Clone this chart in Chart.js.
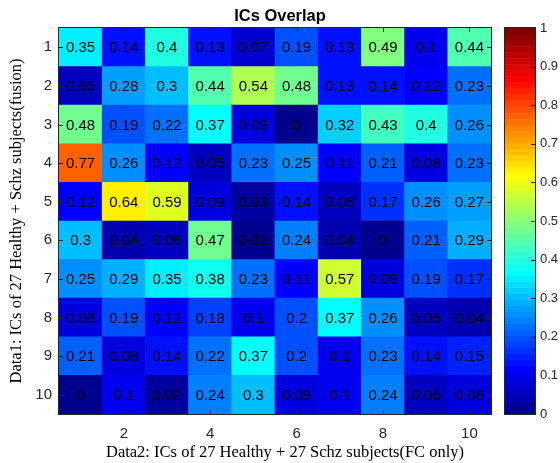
<!DOCTYPE html>
<html>
<head>
<meta charset="utf-8">
<script src="https://cdn.jsdelivr.net/npm/chart.js@4/dist/chart.umd.min.js"></script>
<style>
  html, body { margin: 0; padding: 0; background: #fff; }
  canvas { display: block; }
</style>
</head>
<body>
<canvas id="overlap" width="560" height="463"></canvas>
<script>
const ctx = document.getElementById('overlap').getContext('2d');

// Filas (Data1) y columnas (Data2)
const rows = [1, 2, 3, 4, 5, 6, 7, 8, 9, 10];
const cols = [1, 2, 3, 4, 5, 6, 7, 8, 9, 10];
const xTicks = [2, 4, 6, 8, 10];
const cbTicks = [0, 0.1, 0.2, 0.3, 0.4, 0.5, 0.6, 0.7, 0.8, 0.9, 1];

// Valores de solapamiento, una fila por IC de Data1
const r1 = [0.35, 0.14, 0.4, 0.13, 0.07, 0.19, 0.13, 0.49, 0.1, 0.44];
const r2 = [0.05, 0.28, 0.3, 0.44, 0.54, 0.48, 0.13, 0.14, 0.12, 0.23];
const r3 = [0.48, 0.19, 0.22, 0.37, 0.09, 0, 0.32, 0.43, 0.4, 0.26];
const r4 = [0.77, 0.26, 0.12, 0.05, 0.23, 0.25, 0.11, 0.21, 0.08, 0.23];
const r5 = [0.12, 0.64, 0.59, 0.09, 0.03, 0.14, 0.05, 0.17, 0.26, 0.27];
const r6 = [0.3, 0.04, 0.06, 0.47, 0.01, 0.24, 0.04, 0, 0.21, 0.29];
const r7 = [0.25, 0.29, 0.35, 0.38, 0.23, 0.11, 0.57, 0.09, 0.19, 0.17];
const r8 = [0.08, 0.19, 0.12, 0.18, 0.1, 0.2, 0.37, 0.26, 0.05, 0.04];
const r9 = [0.21, 0.08, 0.14, 0.22, 0.37, 0.2, 0.1, 0.23, 0.14, 0.15];
const r10 = [0, 0.1, 0.02, 0.24, 0.3, 0.09, 0.1, 0.24, 0.06, 0.08];
const values = [r1, r2, r3, r4, r5, r6, r7, r8, r9, r10];

const xTitle = 'Data2: ICs of 27 Healthy + 27 Schz subjects(FC only)';
const yTitle = 'Data1: ICs of 27 Healthy + Schz subjects(fusion)';

// Colormap jet de 64 niveles (como en MATLAB)
function jetU(j) {
    return j <= 16 ? j / 16 : (j <= 31 ? 1 : (48 - j) / 16);
}
function jet(k) {
    const r = k >= 25 ? jetU(k - 24) : 0;
    const g = (k >= 9 && k <= 55) ? jetU(k - 8) : 0;
    const b = k <= 39 ? jetU(k + 8) : 0;
    return 'rgb(' + Math.round(r * 255) + ',' + Math.round(g * 255) + ',' + Math.round(b * 255) + ')';
}
function colorFor(v) {
    return jet(Math.min(64, Math.floor(v * 64) + 1));
}

// Celdas como barras flotantes
const cells = [];
const cellColors = [];
values.forEach((row, i) => {
    row.forEach((v, j) => {
        cells.push({ x: cols[j], y: [rows[i] - 0.5, rows[i] + 0.5], v: v });
        cellColors.push(colorFor(v));
    });
});

const axisColor = '#262626';
const sans = '"Liberation Sans", Arial, sans-serif';
const serif = '"Liberation Serif", "Times New Roman", serif';

// sin padding extra por etiquetas en los bordes
function noPad(s) {
    s.paddingTop = 0; s.paddingBottom = 0; s.paddingLeft = 0; s.paddingRight = 0;
}

// Texto de celdas, marco, ticks internos y barra de color
const extras = {
    id: 'extras',
    afterDatasetsDraw(chart) {
        const { ctx, chartArea: a, scales: { x, y, yc } } = chart;
        const meta = chart.getDatasetMeta(0);
        ctx.save();
        ctx.font = '15px ' + sans;
        ctx.fillStyle = '#000';
        ctx.textAlign = 'center';
        ctx.textBaseline = 'middle';
        meta.data.forEach((bar, i) => {
            const p = bar.getCenterPoint();
            ctx.fillText(String(cells[i].v), p.x, p.y + 1);
        });

        ctx.strokeStyle = axisColor;
        ctx.lineWidth = 1;
        ctx.strokeRect(Math.round(a.left) - 0.5, Math.round(a.top) - 0.5, Math.round(a.width) + 1, Math.round(a.height) + 1);
        ctx.beginPath();
        xTicks.forEach(t => {
            const px = Math.round(x.getPixelForValue(t)) + 0.5;
            ctx.moveTo(px, a.bottom); ctx.lineTo(px, a.bottom - 4);
            ctx.moveTo(px, a.top); ctx.lineTo(px, a.top + 4);
        });
        rows.forEach(t => {
            const py = Math.round(y.getPixelForValue(t)) + 0.5;
            ctx.moveTo(a.left, py); ctx.lineTo(a.left + 4, py);
            ctx.moveTo(a.right, py); ctx.lineTo(a.right - 4, py);
        });
        ctx.stroke();

        // barra de color
        const cl = a.right + 14, cw = 30;
        for (let k = 0; k < 64; k++) {
            const y0 = yc.getPixelForValue(k / 64);
            const y1 = yc.getPixelForValue((k + 1) / 64);
            ctx.fillStyle = jet(k + 1);
            ctx.fillRect(cl, y1, cw, y0 - y1 + 0.5);
        }
        ctx.strokeRect(Math.round(cl) - 0.5, Math.round(a.top) - 0.5, cw + 1, Math.round(a.height) + 1);
        ctx.beginPath();
        cbTicks.forEach(t => {
            const py = Math.round(yc.getPixelForValue(t)) + 0.5;
            ctx.moveTo(cl + cw, py); ctx.lineTo(cl + cw - 4, py);
        });
        ctx.stroke();

        // titulo eje x (centrado como en la figura original)
        ctx.font = '16.5px ' + serif;
        ctx.fillStyle = '#000';
        ctx.textBaseline = 'alphabetic';
        ctx.fillText(xTitle, (a.left + a.right) / 2 + 10, chart.height - 6);
        ctx.restore();
    }
};

const data_overlap = {
    datasets: [{
        label: 'ICs Overlap',
        data: cells,
        backgroundColor: cellColors,
        borderWidth: 0,
        barPercentage: 1,
        categoryPercentage: 1,
        grouped: false
    }]
};

const config_overlap = {
    type: 'bar',
    data: data_overlap,
    options: {
        responsive: false,
        animation: false,
        layout: { padding: 0 },
        plugins: {
            legend: { display: false },
            tooltip: { enabled: false },
            title: {
                display: true,
                text: 'ICs Overlap',
                color: '#000',
                font: { family: sans, size: 16.5, weight: 'bold' },
                padding: { top: 7, bottom: 1.2 }
            }
        },
        scales: {
            x: {
                type: 'linear',
                offset: false,
                min: 0.5,
                max: 10.5,
                afterBuildTicks: s => { s.ticks = xTicks.map(v => ({ value: v })); },
                afterFit: s => { s.height = 49; noPad(s); },
                grid: { display: false, drawTicks: false },
                border: { display: false },
                ticks: {
                    color: axisColor,
                    padding: 11,
                    font: { family: sans, size: 15 },
                    callback: v => String(v)
                }
            },
            y: {
                type: 'linear',
                reverse: true,
                min: 0.5,
                max: 10.5,
                afterBuildTicks: s => { s.ticks = rows.map(v => ({ value: v })); },
                afterFit: s => { s.width = 59; noPad(s); },
                grid: { display: false, drawTicks: false },
                border: { display: false },
                ticks: {
                    color: axisColor,
                    padding: 7,
                    font: { family: sans, size: 15 },
                    callback: v => String(v)
                },
                title: {
                    display: true,
                    text: yTitle,
                    color: '#000',
                    font: { family: serif, size: 16.5 },
                    padding: { top: 7, bottom: 0 }
                }
            },
            yc: {
                type: 'linear',
                position: 'right',
                min: 0,
                max: 1,
                afterBuildTicks: s => { s.ticks = cbTicks.map(v => ({ value: v })); },
                afterFit: s => { s.width = 69; noPad(s); },
                grid: { display: false, drawTicks: false },
                border: { display: false },
                ticks: {
                    color: axisColor,
                    padding: 49,
                    font: { family: sans, size: 13 },
                    callback: v => String(v)
                }
            }
        }
    },
    plugins: [extras]
};

// Inicializar grafico
new Chart(ctx, config_overlap);
</script>
</body>
</html>
